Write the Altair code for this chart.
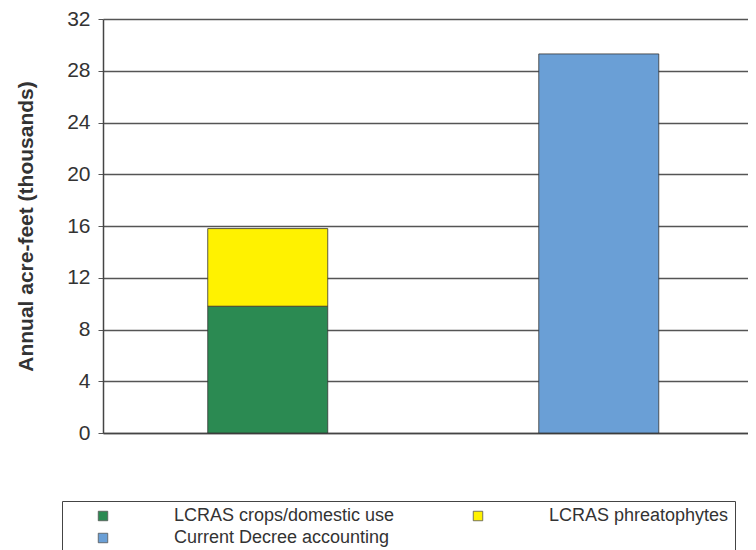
import altair as alt
import pandas as pd

groups = ["LCRAS", "LCRAS", "Decree"]
series = ["LCRAS crops/domestic use", "LCRAS phreatophytes", "Current Decree accounting"]
values = [9.8, 6.0, 29.3]
stack_order = [0, 1, 0]
colors = ["#2b8a52", "#fff200", "#6a9fd6"]
y_ticks = [0, 4, 8, 12, 16, 20, 24, 28, 32]

df = pd.DataFrame({"group": groups, "series": series, "value": values, "ord": stack_order})

font = "Liberation Sans"

chart = alt.Chart(df).mark_bar(stroke="#333333", strokeWidth=0.8).encode(
    x=alt.X("group:N", sort=["LCRAS", "Decree"],
            scale=alt.Scale(paddingInner=0.6375, paddingOuter=0.293, align=0.54),
            axis=alt.Axis(labels=False, ticks=False, title=None, domainColor="#444444", domainWidth=1.5)),
    y=alt.Y("value:Q", stack="zero",
            scale=alt.Scale(domain=[0, 32], nice=False),
            axis=alt.Axis(values=y_ticks, title="Annual acre-feet (thousands)",
                          titleFont=font, titleFontSize=21, titleFontWeight="bold", titleColor="#333333",
                          titlePadding=30,
                          labelFont=font, labelFontSize=21, labelColor="#333333", labelPadding=8,
                          tickSize=5, tickColor="#555555",
                          gridColor="#555555", gridWidth=1.5,
                          domainColor="#444444", domainWidth=1.5)),
    color=alt.Color("series:N", sort=series,
                    scale=alt.Scale(domain=series, range=colors),
                    legend=alt.Legend(title=None, orient="none", legendX=-41, legendY=482,
                                      columns=2, direction="horizontal",
                                      symbolType="square", symbolSize=90, symbolStrokeColor="#555555",
                                      symbolStrokeWidth=0.8, symbolOffset=26,
                                      labelFont=font, labelFontSize=18, labelColor="#333333",
                                      labelLimit=0,
                                      labelOffset=62, columnPadding=48, rowPadding=4,
                                      strokeColor="#444444", fillColor="white", padding=6,
                                      offset=0)),
    order=alt.Order("ord:Q"),
).properties(
    width=645, height=414, padding={"left": 7, "top": 0, "right": 0, "bottom": 0}
).configure_view(stroke=None)

chart.save("out.html", embed_options={"renderer": "svg", "actions": False})
